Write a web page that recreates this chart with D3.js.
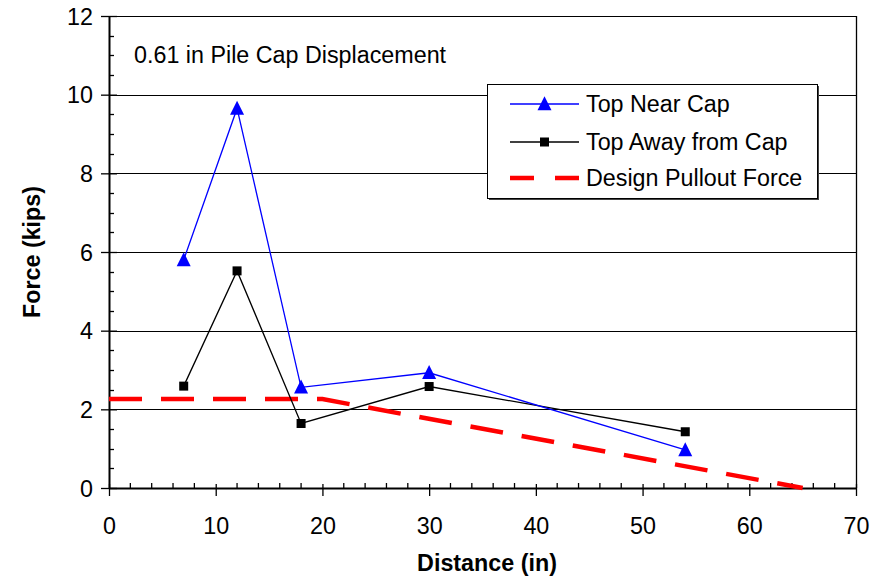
<!DOCTYPE html>
<html><head><meta charset="utf-8">
<script src="https://cdn.jsdelivr.net/npm/d3@7"></script>
<style>body{margin:0;background:#fff}svg{display:block}text{font-family:"Liberation Sans",Arial,sans-serif}</style>
</head><body><svg id="c" width="884" height="577"></svg>
<script>
const distance = [7, 12, 18, 30, 54];
const topNearCap = [5.8, 9.65, 2.56, 2.93, 0.97];
const topAwayFromCap = [2.59, 5.52, 1.64, 2.58, 1.43];
const designX = [0, 20, 65];
const designForce = [2.26, 2.26, 0];
const xTicks = [0, 10, 20, 30, 40, 50, 60, 70];
const yTicks = [0, 2, 4, 6, 8, 10, 12];
const seriesNames = ["Top Near Cap", "Top Away from Cap", "Design Pullout Force"];

const FS = 23.3;
const svg = d3.select("#c");
const L = 109, R = 856, T = 16, B = 488;
const x = d3.scaleLinear().domain([0, 70]).range([L, R]);
const y = d3.scaleLinear().domain([0, 12]).range([B, T]);

// gridlines
svg.append("g").selectAll("line").data(yTicks.filter(d => d > 0)).join("line")
  .attr("x1", L).attr("x2", R).attr("y1", d => Math.round(y(d)) + 0.5).attr("y2", d => Math.round(y(d)) + 0.5)
  .attr("stroke", "#000").attr("stroke-width", 1);
// right border
svg.append("line").attr("x1", R + 0.5).attr("x2", R + 0.5).attr("y1", T).attr("y2", B).attr("stroke", "#000").attr("stroke-width", 1.3);

// minor ticks
const yMinor = d3.range(0, 12.01, 0.5).filter(d => d % 2 !== 0);
svg.append("g").selectAll("line").data(yMinor).join("line")
  .attr("x1", L).attr("x2", L + 5).attr("y1", d => Math.round(y(d)) + 0.5).attr("y2", d => Math.round(y(d)) + 0.5)
  .attr("stroke", "#000").attr("stroke-width", 1.3);
const xMinor = d3.range(0, 70.01, 2).filter(d => d % 10 !== 0);
svg.append("g").selectAll("line").data(xMinor).join("line")
  .attr("x1", d => x(d)).attr("x2", d => x(d)).attr("y1", B - 5).attr("y2", B)
  .attr("stroke", "#000").attr("stroke-width", 1.3);

// axes
const yAxis = d3.axisLeft(y).tickValues(yTicks).tickSizeInner(8).tickSizeOuter(0).tickPadding(6);
const gy = svg.append("g").attr("transform", `translate(${L},0)`).call(yAxis);
gy.selectAll(".tick line").attr("x2", -8).attr("x1", 8).attr("stroke-width", 1.3);
gy.select(".domain").attr("stroke-width", 2);
gy.selectAll("text").attr("font-size", FS).attr("x", -16).attr("dy", "0.35em");

const xAxis = d3.axisBottom(x).tickValues(xTicks).tickSizeInner(8).tickSizeOuter(0).tickPadding(21);
const gx = svg.append("g").attr("transform", `translate(0,${B})`).call(xAxis);
gx.selectAll(".tick line").attr("y1", -4).attr("y2", 8).attr("stroke-width", 1.3);
gx.select(".domain").attr("stroke-width", 2);
gx.selectAll("text").attr("font-size", FS);
svg.selectAll(".domain, .tick line").attr("stroke", "#000");
svg.selectAll(".tick text").attr("fill", "#000");

// design pullout
const line = d3.line().x(d => x(d[0])).y(d => y(d[1]));
svg.append("path").datum(designX.map((d, i) => [d, designForce[i]]))
  .attr("d", line).attr("fill", "none").attr("stroke", "#ff0000").attr("stroke-width", 4.5)
  .attr("stroke-dasharray", "33,19");

// black series
const awayPts = distance.map((d, i) => [d, topAwayFromCap[i]]);
svg.append("path").datum(awayPts).attr("d", line).attr("fill", "none").attr("stroke", "#000").attr("stroke-width", 1.3);
svg.append("g").selectAll("rect").data(awayPts).join("rect")
  .attr("x", d => x(d[0]) - 4.5).attr("y", d => y(d[1]) - 4.5).attr("width", 9).attr("height", 9).attr("fill", "#000");

// blue series
const nearPts = distance.map((d, i) => [d, topNearCap[i]]);
svg.append("path").datum(nearPts).attr("d", line).attr("fill", "none").attr("stroke", "#0000ff").attr("stroke-width", 1.3);
const tri = (cx, cy, s) => `M${cx},${cy - s * 0.55}L${cx + s / 2},${cy + s * 0.45}L${cx - s / 2},${cy + s * 0.45}Z`;
svg.append("g").selectAll("path").data(nearPts).join("path")
  .attr("d", d => tri(x(d[0]), y(d[1]), 14)).attr("fill", "#0000ff");

// annotation
svg.append("text").attr("x", 134).attr("y", 63).attr("font-size", FS).text("0.61 in Pile Cap Displacement");

// legend
const lg = svg.append("g");
lg.append("rect").attr("x", 489).attr("y", 86).attr("width", 330).attr("height", 114).attr("fill", "#444");
lg.append("rect").attr("x", 487.5).attr("y", 84.5).attr("width", 330).attr("height", 114).attr("fill", "#fff").attr("stroke", "#000").attr("stroke-width", 1);
const ly = [104, 142, 178];
lg.append("line").attr("x1", 510).attr("x2", 579).attr("y1", ly[0]).attr("y2", ly[0]).attr("stroke", "#0000ff").attr("stroke-width", 1.3);
lg.append("path").attr("d", tri(544.5, ly[0], 14)).attr("fill", "#0000ff");
lg.append("line").attr("x1", 510).attr("x2", 579).attr("y1", ly[1]).attr("y2", ly[1]).attr("stroke", "#000").attr("stroke-width", 1.3);
lg.append("rect").attr("x", 540).attr("y", ly[1] - 4.5).attr("width", 9).attr("height", 9).attr("fill", "#000");
lg.append("line").attr("x1", 510).attr("x2", 579).attr("y1", ly[2]).attr("y2", ly[2]).attr("stroke", "#ff0000").attr("stroke-width", 4.5).attr("stroke-dasharray", "24,21,24");
lg.selectAll("text.l").data(seriesNames).join("text").attr("class", "l")
  .attr("x", 586).attr("y", (d, i) => ly[i]).attr("dy", "0.35em").attr("font-size", FS).text(d => d);

// axis titles
svg.append("text").attr("x", 487).attr("y", 571).attr("text-anchor", "middle").attr("font-size", FS).attr("font-weight", "bold").text("Distance (in)");
svg.append("text").attr("transform", "translate(40,252) rotate(-90)").attr("text-anchor", "middle").attr("font-size", FS).attr("font-weight", "bold").text("Force (kips)");
</script></body></html>
